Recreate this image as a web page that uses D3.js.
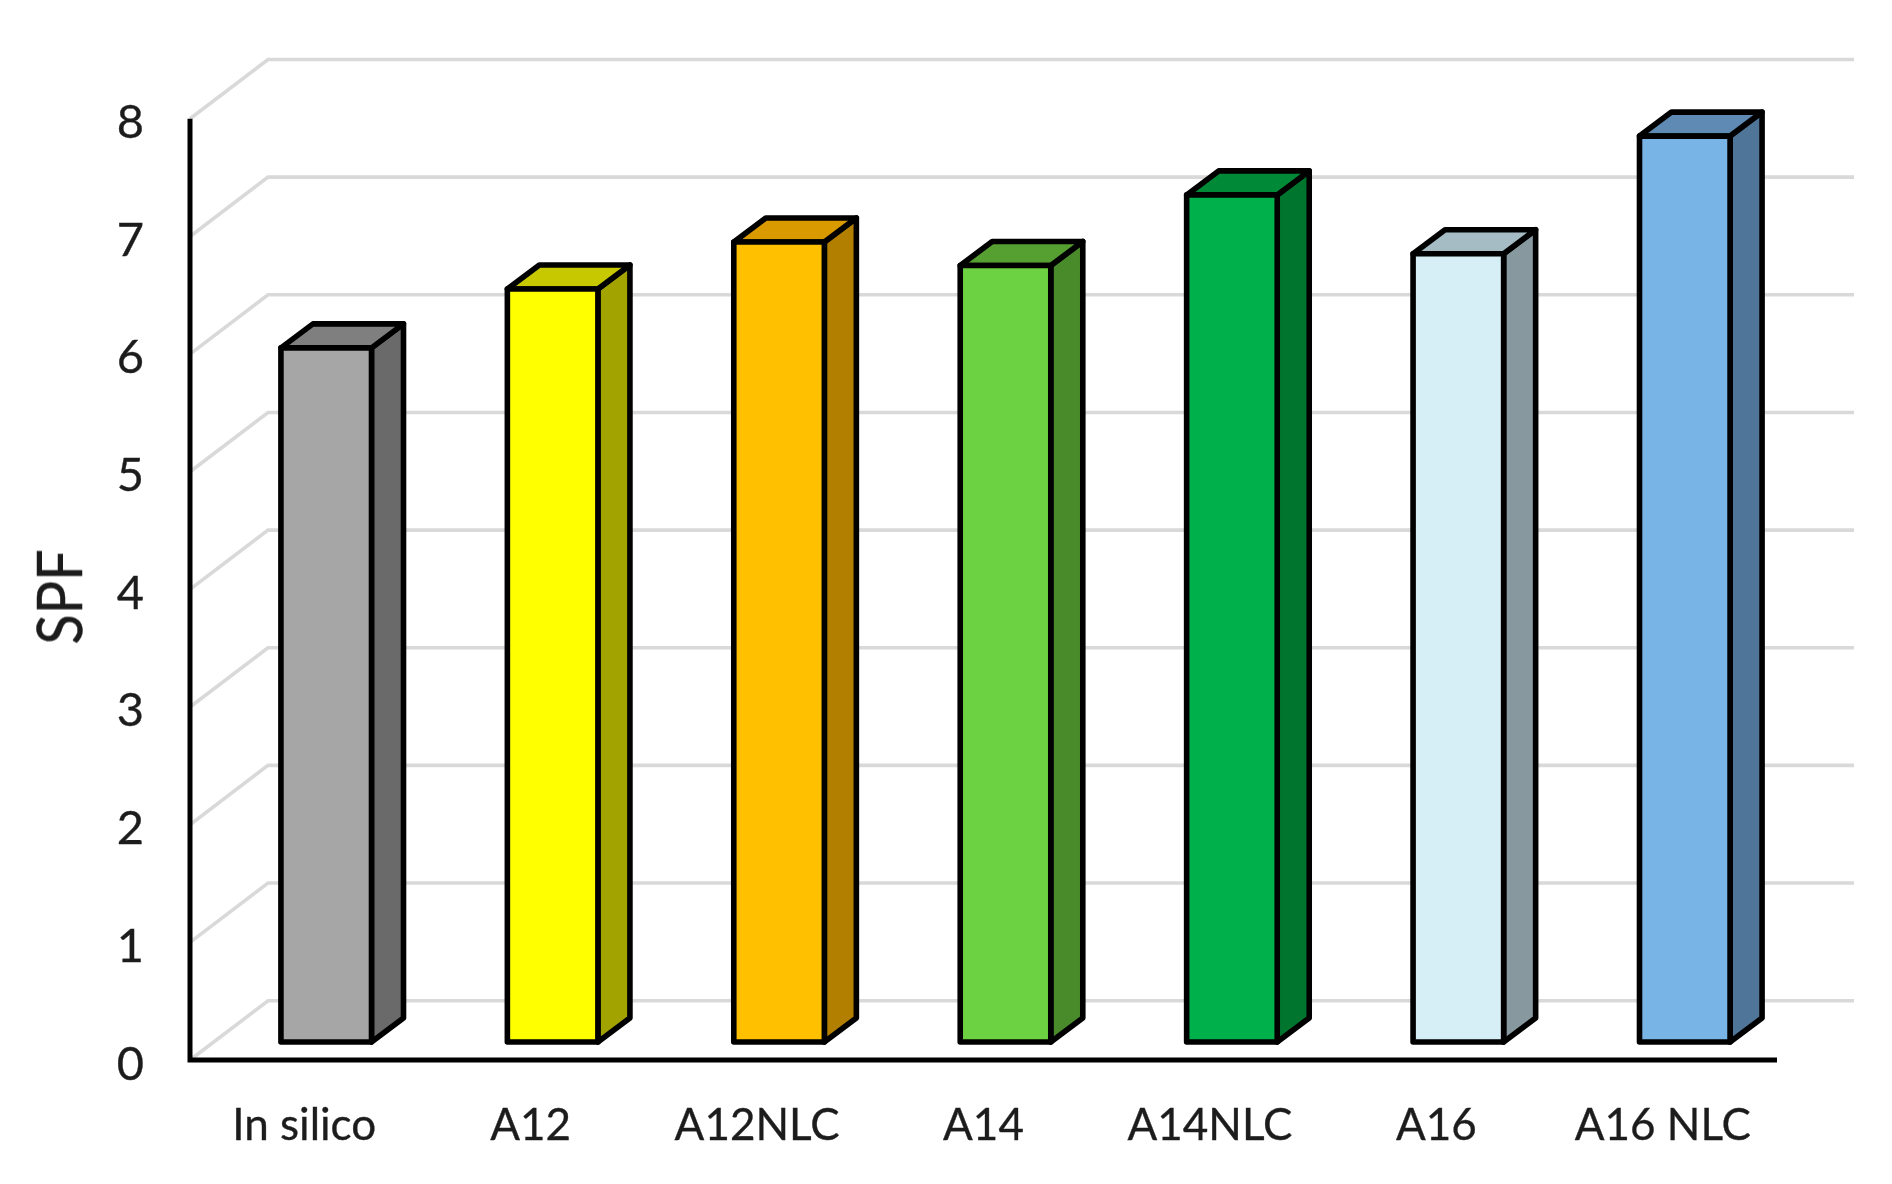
<!DOCTYPE html>
<html>
<head>
<meta charset="utf-8">
<script src="https://cdn.jsdelivr.net/npm/d3@7/dist/d3.min.js"></script>
<style>
html,body{margin:0;padding:0;background:#fff;}
svg{display:block;}
text{font-family:Lato,"Open Sans",sans-serif;fill:#1f1f1f;stroke:#1f1f1f;stroke-width:0.35px;}
</style>
</head>
<body>
<script>
const categories = ["In silico","A12","A12NLC","A14","A14NLC","A16","A16 NLC"];
const spfValues = [5.9,6.4,6.8,6.6,7.2,6.7,7.7];
const frontColors = ["#a6a6a6","#ffff00","#ffc000","#6cd242","#00b04c","#d6eef5","#78b4e5"];
const sideColors = ["#6b6b6b","#a3a300","#b27f00","#4a8a2c","#00752f","#87989e","#4f7699"];
const topColors = ["#7f7f7f","#c8c800","#d99a00","#56a033","#008a38","#a5bcc4","#5e8ab3"];
const yTicks = [0,1,2,3,4,5,6,7,8];

const W = 1892, H = 1184;
const svg = d3.select("body").append("svg").attr("width",W).attr("height",H);
const defs = svg.append("defs");
defs.append("filter").attr("id","soft").attr("x","-2%").attr("y","-2%").attr("width","104%").attr("height","104%")
  .append("feGaussianBlur").attr("stdDeviation",0.75);
const root = svg.append("g").attr("filter","url(#soft)");

// back wall scale; floor depth offsets are relative to it
const y = d3.scaleLinear().domain([0,8]).range([1000.7,59.5]);
const x = d3.scaleBand().domain(categories).range([190,1775]).paddingInner(0.6).paddingOuter(0.3);
const axisX = 190, axisY = 1060, axisEnd = 1777, wallX = 268, gridEnd = 1854;
const wallDrop = axisY - y(0);
const barDrop = 41.3, barShift = 23, dx = 32, dy = 24;

// gridlines with the side wall
root.append("g").selectAll("path").data(yTicks).join("path")
  .attr("d",v=>d3.line()([[axisX,y(v)+wallDrop],[wallX,y(v)],[gridEnd,y(v)]]))
  .attr("fill","none").attr("stroke","#d9d9d9").attr("stroke-width",3.6);

// axes
const tickLabel = d3.axisLeft(d3.scaleLinear().domain([0,8]).range([axisY+4,122.5]))
  .tickValues(yTicks).tickSize(0).tickPadding(46).tickFormat(d3.format("d"));
const yG = root.append("g").attr("transform",`translate(${axisX},0)`).call(tickLabel);
yG.select(".domain").remove();
yG.selectAll("text").style("font-size","47px").style("font-family","Lato,'Open Sans',sans-serif");

const xAxis = d3.axisBottom(x).tickSize(0).tickPadding(49);
const xG = root.append("g").attr("transform","translate(1,"+axisY+")").call(xAxis);
xG.select(".domain").remove();
xG.selectAll("text").style("font-size","44px").style("font-family","Lato,'Open Sans',sans-serif");

root.append("path").attr("d",d3.line()([[axisX,y(8)+wallDrop],[axisX,axisY],[axisEnd,axisY]]))
  .attr("fill","none").attr("stroke","#000").attr("stroke-width",5);

root.append("text").attr("transform","translate(82,597) rotate(-90) scale(0.9,1)")
  .attr("text-anchor","middle").style("font-size","62px").text("SPF");

// bars
const bars = root.append("g").selectAll("g").data(categories).join("g");
const L = c => x(c)+barShift, R = c => x(c)+barShift+x.bandwidth();
const base = y(0)+barDrop;
const T = i => y(spfValues[i])+barDrop;
const common = s => s.attr("stroke","#000").attr("stroke-width",5.6).attr("stroke-linejoin","round");
bars.append("path").call(common).attr("fill",(c,i)=>sideColors[i])
  .attr("d",(c,i)=>d3.line()([[R(c),T(i)],[R(c)+dx,T(i)-dy],[R(c)+dx,base-dy],[R(c),base]])+"Z");
bars.append("path").call(common).attr("fill",(c,i)=>topColors[i])
  .attr("d",(c,i)=>d3.line()([[L(c),T(i)],[L(c)+dx,T(i)-dy],[R(c)+dx,T(i)-dy],[R(c),T(i)]])+"Z");
bars.append("rect").call(common).attr("fill",(c,i)=>frontColors[i])
  .attr("x",L).attr("width",x.bandwidth()).attr("y",(c,i)=>T(i)).attr("height",(c,i)=>base-T(i));
</script>
</body>
</html>
